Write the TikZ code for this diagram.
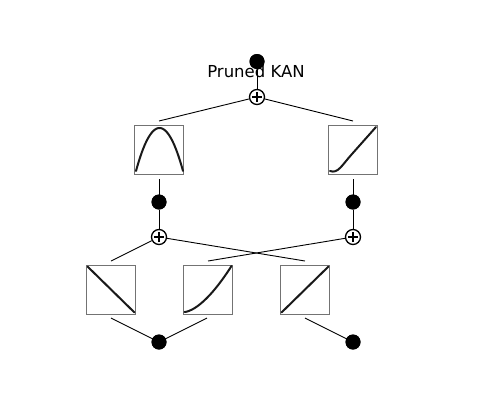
\documentclass[tikz,border=0pt]{standalone}
\usepackage{fontspec}
\setmainfont{DejaVu Sans}
\begin{document}
\begin{tikzpicture}[x=1pt,y=-1pt,
  dot/.style={circle,fill=black,inner sep=0pt,minimum size=15pt},
  plusnode/.style={circle,draw=black,fill=white,line width=1.3pt,inner sep=0pt,minimum size=15pt,
    path picture={
      \draw[line width=2.2pt] ([xshift=-5pt]path picture bounding box.center) -- ([xshift=5pt]path picture bounding box.center);
      \draw[line width=2.2pt] ([yshift=-5pt]path picture bounding box.center) -- ([yshift=5pt]path picture bounding box.center);}},
  fbox/.style={draw=black!55,line width=0.9pt,minimum size=49pt,inner sep=0pt},
  edge/.style={line width=0.9pt,black},
  fcurve/.style={line width=2pt,black!90,line cap=round}]
\useasboundingbox (0,0) rectangle (500,400);

% boxes
\node[fbox] (b1) at (159,149.5) {};
\node[fbox] (b2) at (353,149.5) {};
\node[fbox] (c1) at (111,289.5) {};
\node[fbox] (c2) at (208,289.5) {};
\node[fbox] (c3) at (305,289.5) {};

% curves inside boxes
\begin{scope}[shift={(134,125)}]
  \draw[fcurve] plot[domain=-1:1,samples=50,smooth] ({25.5+23.5*\x},{46-43*(1-\x*\x)});
\end{scope}
\begin{scope}[shift={(328,125)}]
  \draw[fcurve] (2,46) .. controls (10,49) and (14,40) .. (24,29) -- (48,2);
\end{scope}
\begin{scope}[shift={(86,265)}]
  \draw[fcurve] (1.5,1.5) -- (48.5,47.5);
\end{scope}
\begin{scope}[shift={(183,265)}]
  \draw[fcurve] plot[domain=0:1,samples=40,smooth] ({1.5+47*\x},{47-46*(\x^1.6)});
\end{scope}
\begin{scope}[shift={(280,265)}]
  \draw[fcurve] (1.5,47.5) -- (48.5,1.5);
\end{scope}

% anchor coordinates near boxes
\coordinate (b1t) at (159,121);
\coordinate (b2t) at (353,121);
\coordinate (b1b) at (159,179);
\coordinate (b2b) at (353,179);
\coordinate (c1t) at (111,261);
\coordinate (c2t) at (208,261);
\coordinate (c3t) at (305,261);
\coordinate (c1b) at (111,318);
\coordinate (c2b) at (207,318);
\coordinate (c3b) at (305,318);

% nodes
\node[dot] (top) at (257,61.5) {};
\node[plusnode] (p0) at (257,97) {};
\node[dot] (m1) at (159,202) {};
\node[dot] (m2) at (353,202) {};
\node[plusnode] (p1) at (159,237) {};
\node[plusnode] (p2) at (353,237) {};
\node[dot] (o1) at (159,342) {};
\node[dot] (o2) at (353,342) {};

% connectors
\draw[edge] (top.center) -- (p0);
\draw[edge] (p0) -- (b1t);
\draw[edge] (p0) -- (b2t);
\draw[edge] (b1b) -- (m1.center);
\draw[edge] (b2b) -- (m2.center);
\draw[edge] (m1) -- (p1);
\draw[edge] (m2) -- (p2);
\draw[edge] (p1) -- (c1t);
\draw[edge] (p1) -- (c3t);
\draw[edge] (p2) -- (c2t);
\draw[edge] (c1b) -- (o1.center);
\draw[edge] (c2b) -- (o1.center);
\draw[edge] (c3b) -- (o2.center);

% redraw dots on top
\node[dot] at (top.center) {};
\node[dot] at (m1.center) {};
\node[dot] at (m2.center) {};
\node[dot] at (o1.center) {};
\node[dot] at (o2.center) {};

% title
\node[font=\fontsize{16.5}{19}\selectfont,inner sep=0pt] (title) at (256,71) {Pruned KAN};
\end{tikzpicture}
\end{document}
